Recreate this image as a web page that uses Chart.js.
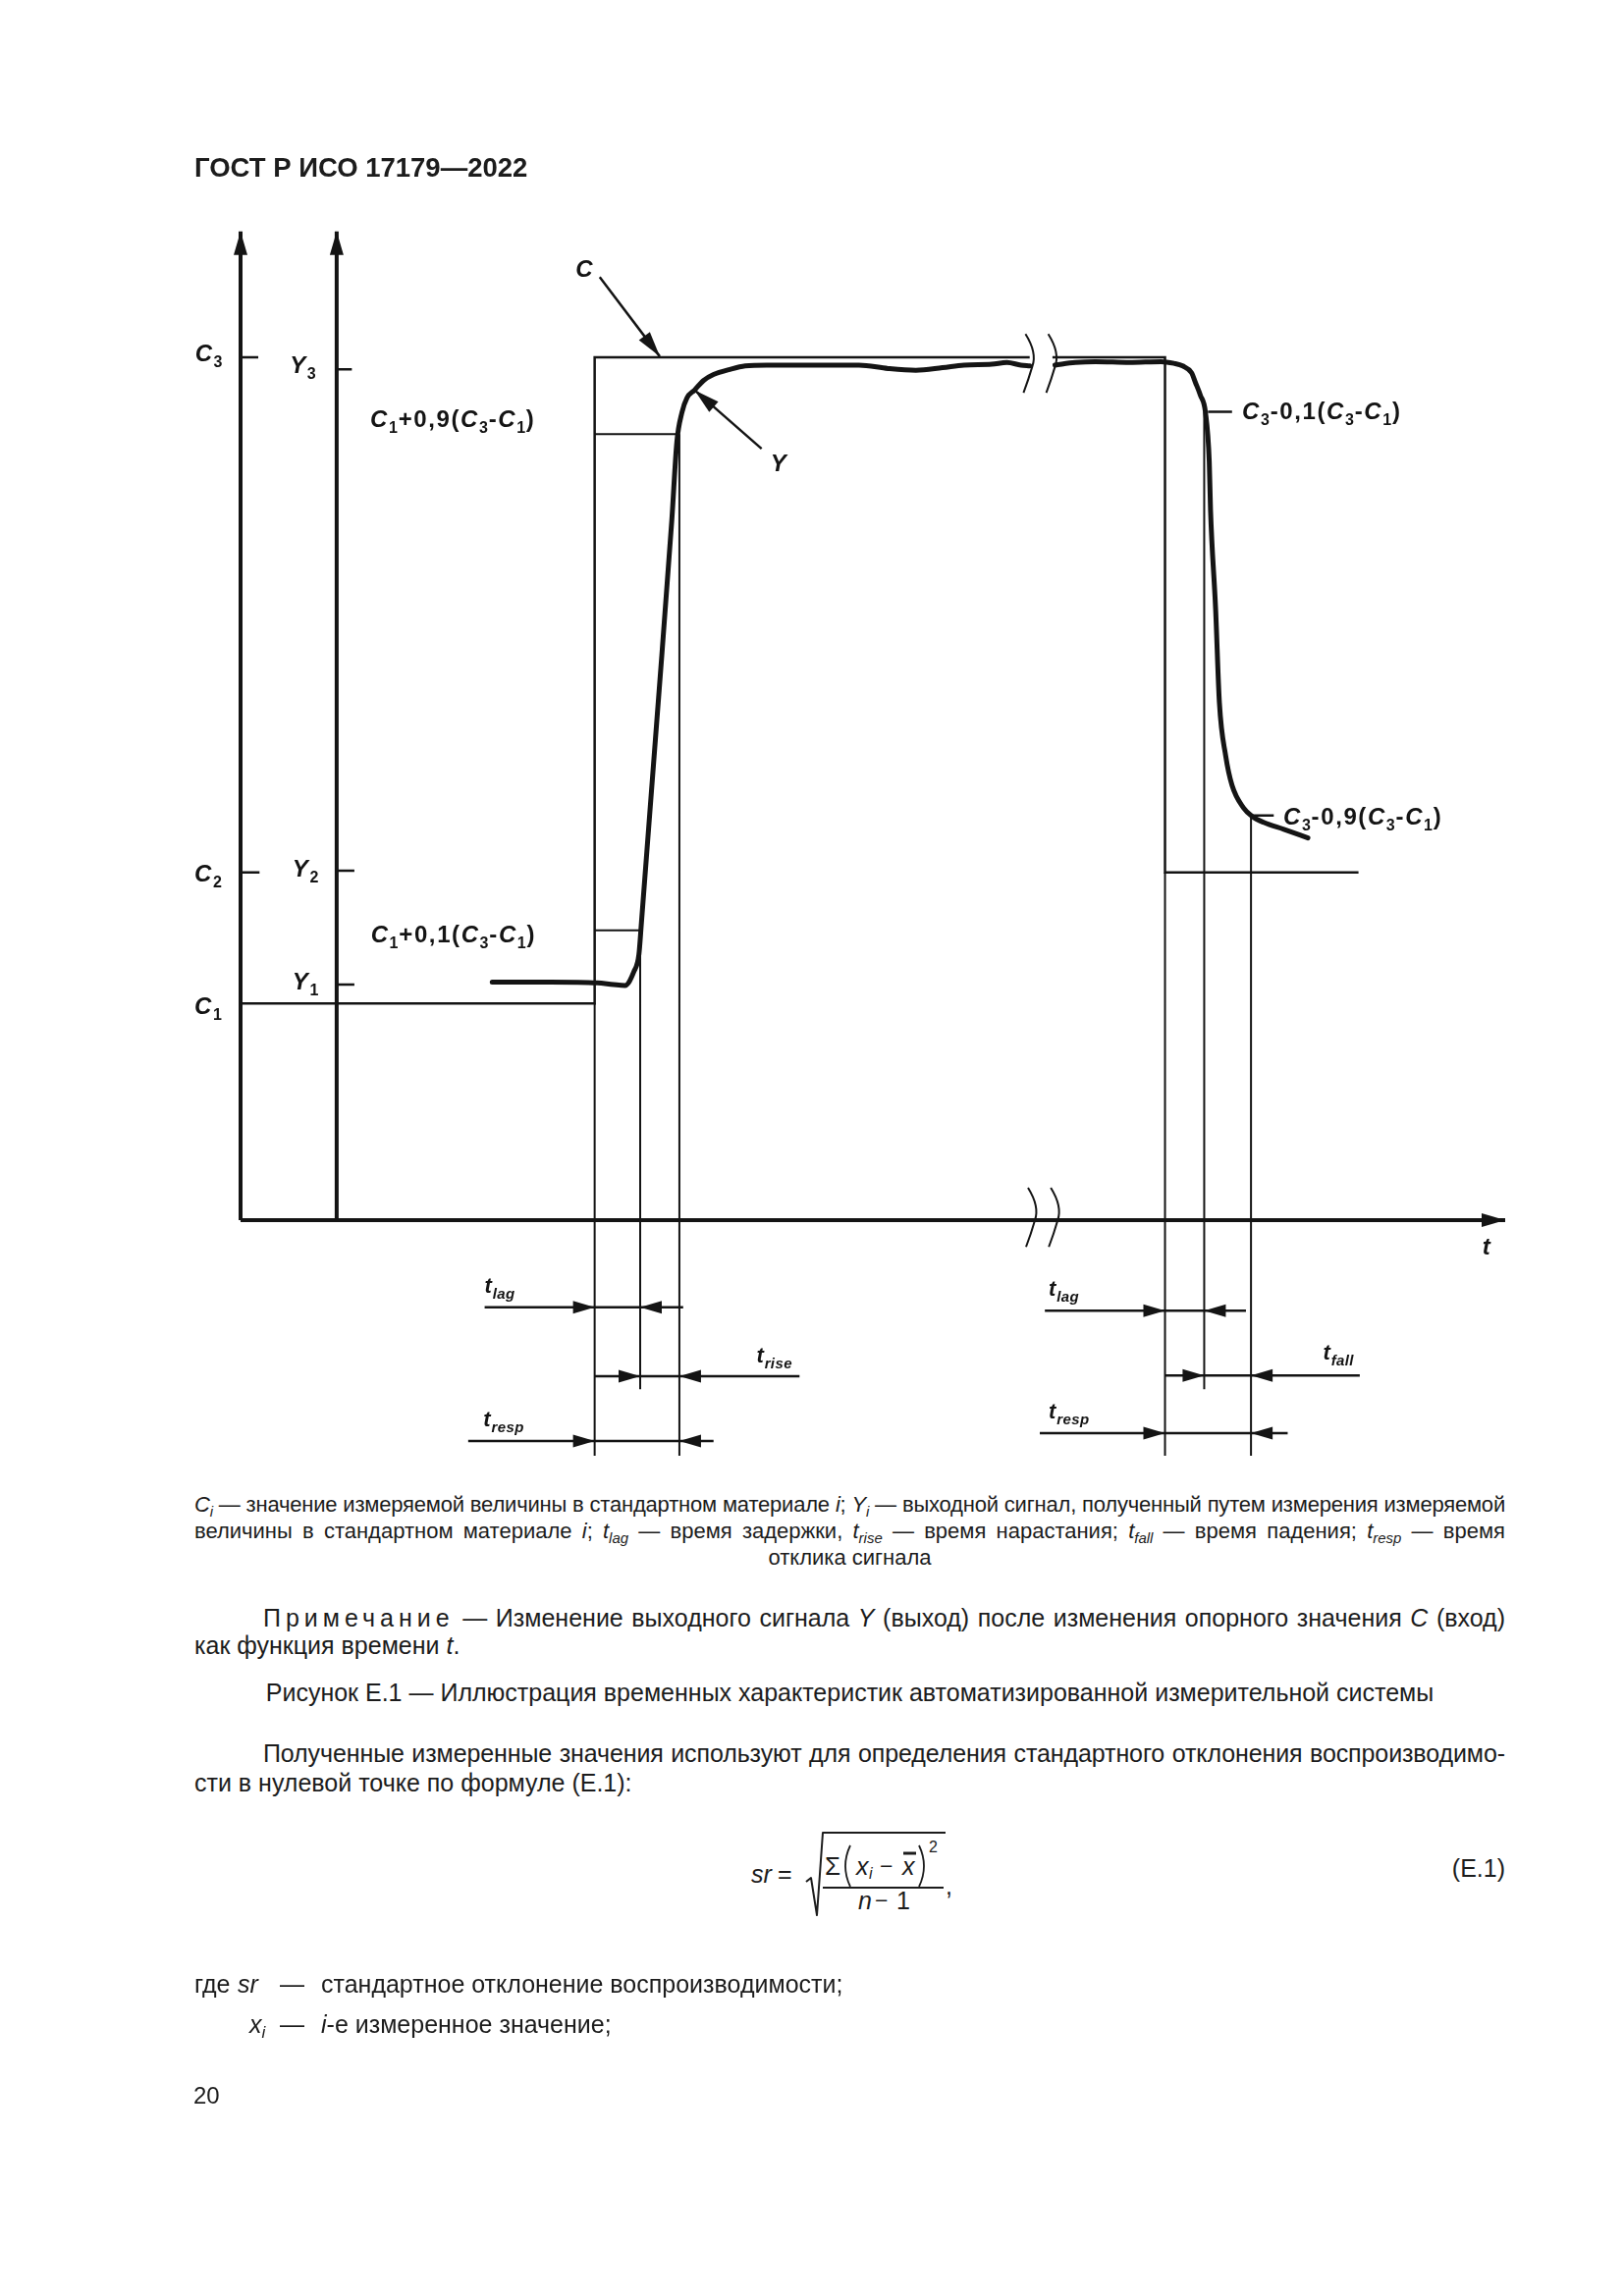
<!DOCTYPE html>
<html lang="ru">
<head>
<meta charset="utf-8">
<title>ГОСТ Р ИСО 17179—2022, рисунок Е.1</title>
<script src="https://cdn.jsdelivr.net/npm/chart.js@4.4.1/dist/chart.umd.min.js"></script>
<style>
  html, body { margin: 0; padding: 0; background: #fff; }
  body {
    position: relative; width: 1654px; height: 2339px; overflow: hidden;
    font-family: "Liberation Sans", Arial, sans-serif; color: #1c1c1c;
  }
  #fig { position: absolute; left: 0; top: 0; }
  #eq { position: absolute; left: 0; top: 0; }
  .ln { position: absolute; white-space: nowrap; line-height: 1; }
  .hdr { font-weight: bold; font-size: 27.5px; }
  .cap { font-size: 22px; }
  .txt { font-size: 25px; }
  .just { white-space: normal; text-align: justify; text-align-last: justify; }
  .mid { text-align: center; }
  .sp { letter-spacing: 0.2em; }
  sub { font-size: 0.68em; line-height: 0; position: relative; top: 0.32em; vertical-align: baseline; }
</style>
</head>
<body>

<canvas id="fig" width="1654" height="1520"></canvas>

<div class="ln hdr" style="left:198px;top:157px">ГОСТ Р ИСО 17179—2022</div>

<!-- key to the figure -->
<div class="ln cap just" style="left:198px;top:1522px;width:1335px"><i>C<sub>i</sub></i> — значение измеряемой величины в стандартном материале <i>i</i>; <i>Y<sub>i</sub></i> — выходной сигнал, полученный путем измерения измеряемой</div>
<div class="ln cap just" style="left:198px;top:1549px;width:1335px">величины в стандартном материале <i>i</i>; <i>t<sub>lag</sub></i> — время задержки, <i>t<sub>rise</sub></i> — время нарастания; <i>t<sub>fall</sub></i> — время падения; <i>t<sub>resp</sub></i> — время</div>
<div class="ln cap mid" style="left:198px;top:1576px;width:1335px">отклика сигнала</div>

<div class="ln txt just" style="left:268px;top:1636px;width:1265px"><span class="sp">Примечание</span> — Изменение выходного сигнала <i>Y</i> (выход) после изменения опорного значения <i>C</i> (вход)</div>
<div class="ln txt" style="left:198px;top:1664px">как функция времени <i>t</i>.</div>

<div class="ln txt mid" style="left:198px;top:1712px;width:1335px">Рисунок Е.1 — Иллюстрация временных характеристик автоматизированной измерительной системы</div>

<div class="ln txt just" style="left:268px;top:1774px;width:1265px">Полученные измеренные значения используют для определения стандартного отклонения воспроизводимо-</div>
<div class="ln txt" style="left:198px;top:1804px">сти в нулевой точке по формуле (Е.1):</div>

<!-- formula (E.1) -->
<div class="ln" style="left:765px;top:1897px;font-size:25px"><i>sr</i></div>
<div class="ln" style="left:792px;top:1897px;font-size:25px">=</div>
<div class="ln" style="left:840px;top:1888px;font-size:26px">Σ</div>
<div class="ln" style="left:872px;top:1889px;font-size:25px"><i>x</i></div>
<div class="ln" style="left:885px;top:1901px;font-size:16px"><i>i</i></div>
<div class="ln" style="left:896px;top:1890px;font-size:23px">−</div>
<div class="ln" style="left:919px;top:1889px;font-size:25px"><i>x</i></div>
<div class="ln" style="left:946px;top:1874px;font-size:16px">2</div>
<div class="ln" style="left:874px;top:1924px;font-size:25px"><i>n</i></div>
<div class="ln" style="left:891px;top:1925px;font-size:23px">−</div>
<div class="ln" style="left:913px;top:1924px;font-size:25px">1</div>
<div class="ln" style="left:963px;top:1909px;font-size:25px">,</div>
<div class="ln txt" style="right:121px;top:1891px">(Е.1)</div>
<svg id="eq" width="1654" height="2339" viewBox="0 0 1654 2339">
  <g fill="none" stroke="#1c1c1c" stroke-linejoin="round">
    <polyline points="821,1917 826,1913 832,1951 838,1867 963,1867" stroke-width="2"/>
    <line x1="838" y1="1923" x2="961" y2="1923" stroke-width="2"/>
    <line x1="920" y1="1888" x2="933" y2="1888" stroke-width="3"/>
    <path d="M 866 1880 Q 856 1901 866 1922" stroke-width="1.8"/>
    <path d="M 936 1880 Q 946 1901 936 1922" stroke-width="1.8"/>
  </g>
</svg>

<div class="ln txt" style="left:198px;top:2009px">где</div>
<div class="ln txt" style="left:242px;top:2009px"><i>sr</i></div>
<div class="ln txt" style="left:285px;top:2009px">—</div>
<div class="ln txt" style="left:327px;top:2009px">стандартное отклонение воспроизводимости;</div>
<div class="ln txt" style="left:254px;top:2050px"><i>x<sub>i</sub></i></div>
<div class="ln txt" style="left:285px;top:2050px">—</div>
<div class="ln txt" style="left:327px;top:2050px"><i>i</i>-е измеренное значение;</div>

<div class="ln" style="left:197px;top:2123px;font-size:24px">20</div>

<script>
// Units: time t runs from 0 (the C axis) to 100 (tip of the t axis);
// value v runs from 0 (the t axis) with the upper reference level C3 = 100.

// reference levels and the two value axes
const C1 = 25.1, C2 = 40.3, C3 = 100.0;
const Y1 = 27.3, Y2 = 40.5, Y3 = 98.6;
const axisTop = 114.6;     // arrow tips of both value axes
const axisEnd = 100.0;     // arrow tip of the t axis
const tYAxis = 7.6;        // where the Y axis stands

// moments on the time axis
const tStepUp = 28.0, tRise10 = 31.6, tRise90 = 34.7;
const tStepDown = 73.1, tFall10 = 76.2, tFall90 = 79.9;
const tC2End = 88.4;
const tBreak = [62.4, 64.2];

// 10 % / 90 % levels
const lvlRise10 = 33.6, lvlRise90 = 91.1;
const lvlFall10 = 93.7, lvlFall90 = 46.9;

// output signal Y, before and after the axis break
const outTimeA = [19.9, 24.5, 28.2, 29.5, 30.4, 31.1, 31.5, 31.7, 33.0, 34.1, 34.5, 34.9, 35.3,
                  35.9, 36.6, 37.4, 38.7, 39.9, 41.6, 45.4, 48.9, 51.2, 53.4, 55.5, 57.2,
                  59.4, 60.6, 61.7, 62.4];
const outValA  = [27.6, 27.6, 27.5, 27.3, 27.2, 28.8, 30.8, 34.5, 59.5, 81.1, 90.2, 93.6, 95.3,
                  96.2, 97.3, 98.0, 98.6, 99.0, 99.1, 99.1, 99.1, 98.7, 98.5, 98.8, 99.1,
                  99.2, 99.4, 99.1, 99.0];
const outTimeB = [64.4, 66.0, 67.6, 70.3, 72.8, 73.8, 74.5, 75.2, 75.5, 75.9, 76.3, 76.6, 76.7,
                  77.1, 77.4, 77.9, 78.4, 79.3, 80.0, 80.9, 82.5, 84.4];
const outValB  = [99.1, 99.4, 99.5, 99.4, 99.5, 99.3, 99.0, 98.2, 97.1, 95.6, 93.6, 87.9, 82.3,
                  70.9, 60.0, 53.8, 50.4, 47.8, 46.8, 46.1, 45.3, 44.3];

// dimension rows under the t axis: t_lag, t_rise, t_resp (left), t_lag, t_fall, t_resp (right)
const rowNames  = ['lag', 'rise', 'resp', 'lag', 'fall', 'resp'];
const rowLevel  = [-10.1, -18.1, -25.6, -10.5, -18.0, -24.7];
const rowFrom   = [19.3, 28.0, 18.0, 63.6, 73.1, 63.2];
const rowTo     = [35.0, 44.2, 37.4, 79.5, 88.5, 82.8];
const rowHeadR  = [28.0, 31.6, 28.0, 73.1, 76.2, 73.1];
const rowHeadL  = [31.6, 34.7, 34.7, 76.2, 79.9, 79.9];
const rowLabelT = [19.3, 40.8, 19.2, 63.9, 85.6, 63.9];
const rowLabelV = [-8.4, -16.5, -23.9, -8.8, -16.2, -23.0];
const guideLow = -27.3, guideMid = -19.6;

// pointers to the curves C and Y: [from t, from v, tip t, tip v]
const pointerC = [28.4, 109.3, 33.15, 100.1];
const pointerY = [41.2, 89.4, 35.9, 96.2];

// text on the figure: [text, t, v]
const figLabels = [
  ['C_3', -3.6, 99.5], ['Y_3', 3.9, 98.2],
  ['C_1+0,9(C_3-C_1)', 10.25, 91.9],
  ['C_2', -3.65, 39.2], ['Y_2', 4.1, 39.8],
  ['C_1+0,1(C_3-C_1)', 10.3, 32.2],
  ['Y_1', 4.1, 26.7], ['C_1', -3.65, 23.9],
  ['C', 26.5, 109.3], ['Y', 41.9, 86.8],
  ['C_3-0,1(C_3-C_1)', 79.2, 92.8],
  ['C_3-0,9(C_3-C_1)', 82.45, 45.8],
  ['t', 98.2, -4.0]
];

const INK = '#141414';
const FONT = '"Liberation Sans", Arial, sans-serif';

// join polylines into one dataset, separated by gaps
function pieces(list) {
  const out = [];
  list.forEach((line, i) => {
    if (i > 0) out.push({ x: line[0][0], y: null });
    line.forEach(p => out.push({ x: p[0], y: p[1] }));
  });
  return out;
}

function lineSet(label, data, width, extra) {
  return Object.assign({
    label, data,
    borderColor: INK, borderWidth: width,
    pointRadius: 0, tension: 0, spanGaps: false, clip: false,
    borderCapStyle: 'butt', borderJoinStyle: 'miter'
  }, extra || {});
}

const axisLines = pieces([
  [[0, 0], [0, axisTop]],
  [[tYAxis, 0], [tYAxis, axisTop]],
  [[0, 0], [axisEnd, 0]]
]);
const tickLines = pieces([
  [[0, C3], [1.4, C3]], [[0, C2], [1.5, C2]],
  [[tYAxis, Y3], [8.8, Y3]], [[tYAxis, Y2], [9.0, Y2]], [[tYAxis, Y1], [9.0, Y1]],
  [[76.5, lvlFall10], [78.4, lvlFall10]], [[80.0, lvlFall90], [81.7, lvlFall90]]
]);
const inputLine = pieces([
  [[0, C1], [tStepUp, C1], [tStepUp, C3], [tBreak[0], C3]],
  [[tBreak[1], C3], [tStepDown, C3], [tStepDown, C2], [tC2End, C2]]
]);
const guideLines = pieces([
  [[tStepUp, C1], [tStepUp, guideLow]],
  [[tRise10, lvlRise10], [tRise10, guideMid]],
  [[tRise90, lvlRise90], [tRise90, guideLow]],
  [[tStepDown, C2], [tStepDown, guideLow]],
  [[tFall10, lvlFall10], [tFall10, guideMid]],
  [[tFall90, lvlFall90], [tFall90, guideLow]],
  [[tStepUp, lvlRise10], [tRise10, lvlRise10]],
  [[tStepUp, lvlRise90], [tRise90, lvlRise90]]
]);
const rowLines = pieces(rowLevel.map((v, i) => [[rowFrom[i], v], [rowTo[i], v]]));
const pointerLines = pieces([
  [[pointerC[0], pointerC[1]], [pointerC[2], pointerC[3]]],
  [[pointerY[0], pointerY[1]], [pointerY[2], pointerY[3]]]
]);
const outputLine = pieces([
  outTimeA.map((t, i) => [t, outValA[i]]),
  outTimeB.map((t, i) => [t, outValB[i]])
]);

// filled arrow head, tip at (x, y), pointing along (dx, dy)
function head(ctx, x, y, dx, dy, len, half) {
  const n = Math.hypot(dx, dy);
  const ux = dx / n, uy = dy / n;
  const bx = x - ux * len, by = y - uy * len;
  ctx.beginPath();
  ctx.moveTo(x, y);
  ctx.lineTo(bx - uy * half, by + ux * half);
  ctx.lineTo(bx + uy * half, by - ux * half);
  ctx.closePath();
  ctx.fill();
}

// ")" shaped break mark
function breakMark(ctx, cx, top, bottom) {
  const h = bottom - top;
  ctx.beginPath();
  ctx.moveTo(cx - 3, top);
  ctx.quadraticCurveTo(cx + 9, top + h * 0.32, cx + 4, top + h * 0.55);
  ctx.quadraticCurveTo(cx, top + h * 0.78, cx - 5, bottom);
  ctx.stroke();
}

// text with subscripts; capitals and lower-case letters are set in italics
function putChars(ctx, s, x, y, size, italic, gap) {
  ctx.font = (italic ? 'italic ' : '') + 'bold ' + size + 'px ' + FONT;
  for (const ch of s) {
    ctx.fillText(ch, x, y);
    x += ctx.measureText(ch).width + gap;
  }
  return x;
}
function richText(ctx, text, x, y, size, subSize, drop, gap) {
  const re = /([A-Za-z])_([A-Za-z0-9]+)|(.)/g;
  let m;
  while ((m = re.exec(text))) {
    if (m[1]) {
      x = putChars(ctx, m[1], x, y, size, true, gap);
      x = putChars(ctx, m[2], x, y + drop, subSize, /[a-z]/.test(m[2]), gap * 0.5);
    } else {
      x = putChars(ctx, m[3], x, y, size, /[A-Za-z]/.test(m[3]), gap);
    }
  }
}

const figureDecor = {
  id: 'figureDecor',
  afterDatasetsDraw(chart) {
    const { ctx, scales } = chart;
    const px = t => scales.x.getPixelForValue(t);
    const py = v => scales.y.getPixelForValue(v);
    ctx.save();
    ctx.fillStyle = INK;
    ctx.strokeStyle = INK;

    // axis arrows
    head(ctx, px(0), py(axisTop), 0, -1, 24, 7);
    head(ctx, px(tYAxis), py(axisTop), 0, -1, 24, 7);
    head(ctx, px(axisEnd), py(0), 1, 0, 24, 7);

    // pointers
    [pointerC, pointerY].forEach(p => {
      head(ctx, px(p[2]), py(p[3]), px(p[2]) - px(p[0]), py(p[3]) - py(p[1]), 26, 7);
    });

    // dimension arrows
    rowLevel.forEach((v, i) => {
      head(ctx, px(rowHeadR[i]), py(v), 1, 0, 22, 6.5);
      head(ctx, px(rowHeadL[i]), py(v), -1, 0, 22, 6.5);
    });

    // breaks on the input line and on the t axis
    ctx.lineWidth = 2;
    tBreak.forEach(t => {
      breakMark(ctx, px(t - 0.1), py(102.7), py(95.9));
      breakMark(ctx, px(t + 0.1), py(3.75), py(-3.1));
    });

    // labels
    ctx.textBaseline = 'alphabetic';
    figLabels.forEach(([s, t, v]) => richText(ctx, s, px(t), py(v), 24, 16, 6, 1.6));
    rowNames.forEach((name, i) => {
      richText(ctx, 't_' + name, px(rowLabelT[i]), py(rowLabelV[i]), 22, 15, 6, 0.8);
    });
    ctx.restore();
  }
};

const canvasH = 1520;
new Chart(document.getElementById('fig'), {
  type: 'line',
  data: {
    datasets: [
      lineSet('Y', outputLine, 5, { cubicInterpolationMode: 'monotone', borderCapStyle: 'round', borderJoinStyle: 'round' }),
      lineSet('axes', axisLines, 4),
      lineSet('ticks', tickLines, 2.5),
      lineSet('C', inputLine, 2.5),
      lineSet('guides', guideLines, 2),
      lineSet('rows', rowLines, 2.5),
      lineSet('pointers', pointerLines, 2.5)
    ]
  },
  options: {
    responsive: false,
    devicePixelRatio: 1,
    animation: false,
    events: [],
    layout: { padding: { left: 245, right: 121, top: 1243 - 120 * 8.79, bottom: canvasH - (1243 + 30 * 8.79) } },
    scales: {
      x: { type: 'linear', min: 0, max: 100, display: false },
      y: { type: 'linear', min: -30, max: 120, display: false }
    },
    plugins: { legend: { display: false }, tooltip: { enabled: false } }
  },
  plugins: [figureDecor]
});

// keep every justified line on one line
document.querySelectorAll('.just').forEach(el => {
  const fs = parseFloat(getComputedStyle(el).fontSize);
  let ls = 0;
  while (el.scrollHeight > fs * 1.6 && ls > -3) {
    ls -= 0.1;
    el.style.letterSpacing = ls + 'px';
  }
});
</script>
</body>
</html>
